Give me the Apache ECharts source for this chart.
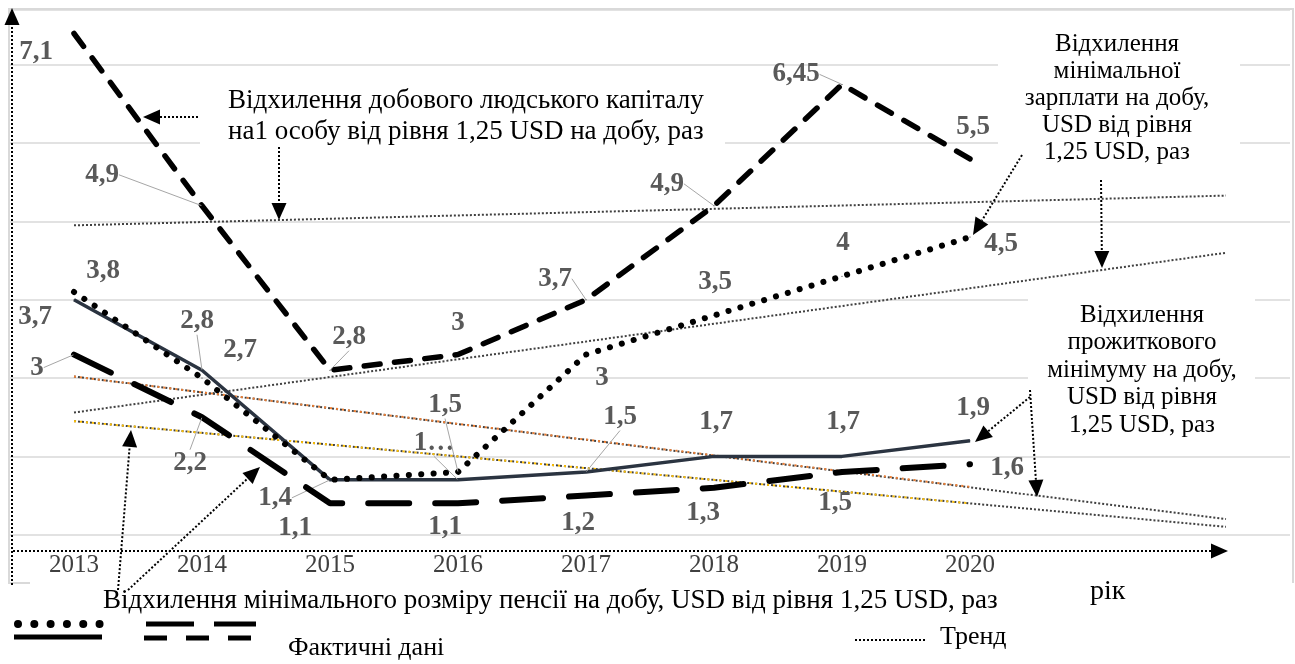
<!DOCTYPE html>
<html>
<head>
<meta charset="utf-8">
<script src="https://cdn.jsdelivr.net/npm/echarts@6/dist/echarts.min.js"></script>
<style>
  html, body { margin: 0; padding: 0; background: #fff; }
  #chart { width: 1295px; height: 664px; }
</style>
</head>
<body>
<div id="chart"></div>
<script>
// categories (two empty slots at the end carry the trend forecast)
const years = ['2013', '2014', '2015', '2016', '2017', '2018', '2019', '2020'];
const forecastSlots = ['', ''];

// actual data, times above 1,25 USD per day
const capitalDev = [7.1, 4.9, 2.8, 3, 3.7, 4.9, 6.45, 5.5];
const wageDev = [3.8, 2.7, 1.4, 1.5, 3, 3.5, 4, 4.5];
const livingDev = [3.7, 2.8, 1.4, 1.4, 1.5, 1.7, 1.7, 1.9];
const pensionDev = [3, 2.2, 1.1, 1.1, 1.2, 1.3, 1.5, 1.6];

// trend lines: value at 2013, (at 2020), at end of forecast
const capitalTrend = [4.65, 5.03];
const wageTrend = [2.26, 4.3];
const livingTrend = [2.72, 1.31, 0.9];
const pensionTrend = [2.15, 1.1, 0.8];

// label placement (offset from point), leader flags and text overrides
const capitalLbl = [[-38, 19], [-100, -31], [19, -33], [0, -32], [-31, -21], [-47, -22], [-46, -10], [3, -32]];
const capitalLead = [0, 1, 1, 0, 1, 1, 1, 0];
const wageLbl = [[29, -21], [38, -28], null, [-13, -67], [16, 23], [1, -33], [1, -33], [31, 7]];
const wageLead = [0, 0, 0, 1, 0, 0, 0, 0];
const livingLbl = [[-39, 17], [-5, -49], [-55, 18], [-24, -37], [34, -55], [2, -34], [1, -34], [3, -33]];
const livingLead = [0, 1, 1, 1, 1, 0, 0, 0];
const livingText = [null, null, null, '1…', null, null, null, null];
const pensionLbl = [[-37, 13], [-12, 46], [-35, 25], [-13, 24], [-8, 27], [-11, 25], [-7, 31], [37, 4]];
const pensionLead = [1, 1, 0, 0, 0, 0, 0, 0];

const serif = 'Liberation Serif';

function actualSeries(name, values, offs, leads, texts, lineStyle, z) {
  return {
    type: 'line', name: name, z: z,
    symbol: 'circle', symbolSize: 1,
    itemStyle: { color: lineStyle.color },
    lineStyle: lineStyle,
    label: {
      show: true, position: 'inside', color: '#595959',
      fontFamily: serif, fontWeight: 'bold', fontSize: 27
    },
    labelLine: { show: false, lineStyle: { color: '#a6a6a6', width: 1 } },
    labelLayout: function (p) {
      const o = offs[p.dataIndex];
      return o ? { dx: o[0], dy: o[1] } : {};
    },
    data: values.map(function (v, i) {
      return {
        value: v,
        label: {
          show: offs[i] != null,
          formatter: (texts && texts[i]) || String(v).replace('.', ',')
        },
        labelLine: { show: !!leads[i] }
      };
    })
  };
}

function trendSeries(points, color, dash, z) {
  return {
    type: 'line', z: z, symbol: 'none', silent: true,
    lineStyle: { color: color, width: 2, type: dash },
    data: points
  };
}

const last = years.length - 1;
const end = years.length + forecastSlots.length - 1;

function arrow(x1, y1, x2, y2) {
  const a = Math.atan2(y2 - y1, x2 - x1), L = 17, W = 7.5;
  const bx = x2 - L * Math.cos(a), by = y2 - L * Math.sin(a);
  return [
    { type: 'line', z: 20, shape: { x1: x1, y1: y1, x2: bx, y2: by },
      style: { stroke: '#000', lineWidth: 2, lineDash: [2, 2] } },
    { type: 'polygon', z: 20,
      shape: { points: [[x2, y2], [bx + W * Math.sin(a), by - W * Math.cos(a)], [bx - W * Math.sin(a), by + W * Math.cos(a)]] },
      style: { fill: '#000' } }
  ];
}

function txt(text, x, y, align, size, lh) {
  return { type: 'text', z: 20, x: x, y: y,
    style: { text: text, fill: '#000', fontSize: size, fontFamily: serif,
      align: align, verticalAlign: 'middle', lineHeight: lh || size + 4 } };
}

function whiteBox(x, y, w, h) {
  return { type: 'rect', z: 1, shape: { x: x, y: y, width: w, height: h }, style: { fill: '#fff' } };
}

let graphics = [
  // chart frame (bottom edge hidden under the caption block)
  { type: 'polyline', z: 0, shape: { points: [[30, 583], [9, 583], [9, 9], [1293, 9], [1293, 583]] },
    style: { stroke: '#d9d9d9', lineWidth: 2, fill: null } },
  whiteBox(200, 76, 525, 86),
  whiteBox(998, 20, 242, 150),
  whiteBox(1028, 290, 227, 155),
  txt('Відхилення добового людського капіталу\nна1 особу від рівня 1,25 USD на добу, раз', 228, 116, 'left', 27, 31),
  txt('Відхилення\nмінімальної\nзарплати на добу,\nUSD від рівня\n1,25 USD, раз', 1117, 98, 'center', 25, 27),
  txt('Відхилення\nпрожиткового\nмінімуму на добу,\nUSD від рівня\n1,25 USD, раз', 1142, 370, 'center', 25, 27.5),
  txt('Відхилення мінімального розміру пенсії на добу, USD від рівня 1,25 USD, раз', 103, 601, 'left', 27),
  txt('рік', 1090, 592, 'left', 28),
  txt('Фактичні дані', 288, 648, 'left', 26),
  txt('Тренд', 940, 637, 'left', 26),
  // legend keys
  { type: 'line', z: 20, shape: { x1: 18, y1: 624, x2: 100, y2: 624 },
    style: { stroke: '#000', lineWidth: 8, lineCap: 'round', lineDash: [0.01, 16.3] } },
  { type: 'line', z: 20, shape: { x1: 14, y1: 637, x2: 102, y2: 637 }, style: { stroke: '#000', lineWidth: 5 } },
  { type: 'line', z: 20, shape: { x1: 146, y1: 624, x2: 256, y2: 624 },
    style: { stroke: '#000', lineWidth: 5, lineDash: [48, 20] } },
  { type: 'line', z: 20, shape: { x1: 144, y1: 638, x2: 252, y2: 638 },
    style: { stroke: '#000', lineWidth: 5, lineDash: [23, 19] } },
  { type: 'line', z: 20, shape: { x1: 855, y1: 640, x2: 925, y2: 640 },
    style: { stroke: '#000', lineWidth: 2, lineDash: [2, 2] } }
];
graphics = graphics
  .concat(arrow(12, 585, 12, 8))
  .concat(arrow(13, 551, 1228, 551))
  .concat(arrow(198, 117, 143, 117))
  .concat(arrow(279, 147, 279, 220))
  .concat(arrow(1022, 155, 973, 235))
  .concat(arrow(1101, 180, 1102, 268))
  .concat(arrow(1030, 397, 975, 442))
  .concat(arrow(1030, 390, 1037, 497))
  .concat(arrow(118, 590, 131, 430))
  .concat(arrow(128, 590, 260, 467));

const chart = echarts.init(document.getElementById('chart'));
chart.setOption({
  animation: false,
  backgroundColor: '#fff',
  grid: { left: 10, right: 5, top: 10, bottom: 51 },
  xAxis: {
    type: 'category',
    data: years.concat(forecastSlots),
    boundaryGap: true,
    offset: -62,
    axisLine: { show: false },
    axisTick: { show: false },
    splitLine: { show: false },
    axisLabel: { margin: 2, color: '#404040', fontFamily: serif, fontSize: 25 }
  },
  yAxis: {
    type: 'value',
    min: -0.3, max: 7.4, interval: 1,
    axisLine: { show: false },
    axisTick: { show: false },
    axisLabel: { show: false },
    splitLine: { show: true, showMinLine: false, lineStyle: { color: '#d9d9d9', width: 1.5 } }
  },
  series: [
    trendSeries([[0, capitalTrend[0]], [end, capitalTrend[1]]], '#404040', [2, 2], 3),
    trendSeries([[0, wageTrend[0]], [end, wageTrend[1]]], '#404040', [2, 2], 3),
    trendSeries([[0, livingTrend[0]], [end, livingTrend[2]]], '#404040', [2, 2], 3),
    trendSeries([[0, livingTrend[0]], [last, livingTrend[1]]], '#ED7D31', [2, 4], 4),
    trendSeries([[0, pensionTrend[0]], [end, pensionTrend[2]]], '#404040', [2, 2], 3),
    trendSeries([[0, pensionTrend[0]], [last, pensionTrend[1]]], '#FFC000', [2, 4], 4),
    actualSeries('Відхилення прожиткового мінімуму', livingDev, livingLbl, livingLead, livingText,
      { color: '#2b3441', width: 3.5 }, 5),
    actualSeries('Відхилення мінімальної зарплати', wageDev, wageLbl, wageLead, null,
      { color: '#000', width: 6, type: [0.1, 12.3], cap: 'round' }, 6),
    actualSeries('Відхилення мінімального розміру пенсії', pensionDev, pensionLbl, pensionLead, null,
      { color: '#000', width: 6, type: [41, 26], cap: 'round' }, 6),
    actualSeries('Відхилення добового людського капіталу', capitalDev, capitalLbl, capitalLead, null,
      { color: '#000', width: 5.5, type: [16, 14.5], cap: 'round' }, 7)
  ],
  graphic: graphics
});
</script>
</body>
</html>
